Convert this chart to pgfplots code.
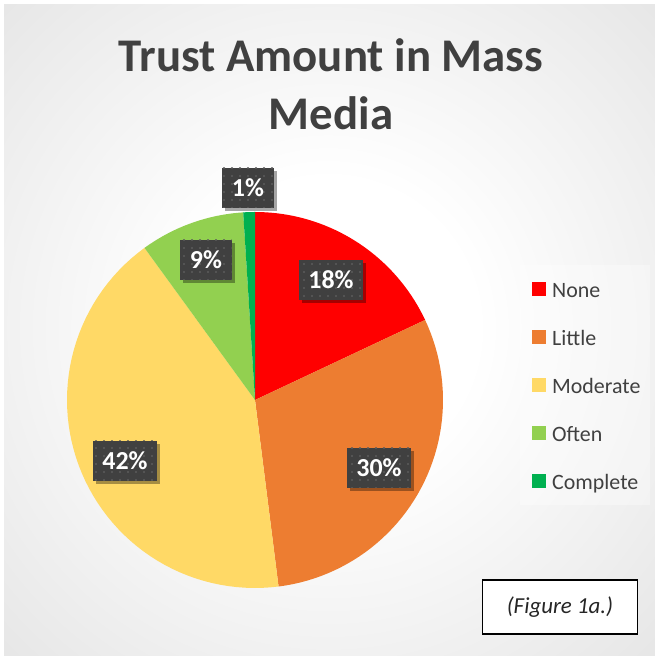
\documentclass[border=0pt]{standalone}
\usepackage{pgfplots}
\pgfplotsset{compat=1.18}
\usepackage{fontspec}
\setmainfont{Carlito}
\usetikzlibrary{patterns.meta,shadows}

\definecolor{cNone}{HTML}{FF0000}
\definecolor{cLittle}{HTML}{ED7D31}
\definecolor{cModerate}{HTML}{FFD966}
\definecolor{cOften}{HTML}{92D050}
\definecolor{cComplete}{HTML}{00B050}
\definecolor{txt}{HTML}{404040}
\definecolor{bgA}{HTML}{D8D8D8}
\definecolor{bgB}{HTML}{C4C4C4}
\definecolor{boxc}{HTML}{404040}
\definecolor{dotc}{HTML}{5C5C5C}

\pgfdeclareradialshading{bgshade}{\pgfpoint{0bp}{0bp}}{color(0bp)=(white); color(8bp)=(white); color(35bp)=(bgA); color(50bp)=(bgB)}

\tikzset{
  lbl/.style={fill=boxc, text=white, inner xsep=9.5bp, inner ysep=0pt,
    minimum height=40bp, font=\bfseries\fontsize{26}{26}\selectfont,
    drop shadow={shadow xshift=3bp, shadow yshift=-3bp, opacity=0.35, fill=black},
    postaction={pattern={Dots[distance=8bp, radius=1.1bp]}, pattern color=dotc}},
}

\begin{document}
\begin{tikzpicture}
\begin{axis}[
  width=655bp, height=656bp, scale only axis,
  xmin=0, xmax=655, ymin=-656, ymax=0,
  axis lines=none, clip=false,
  legend image code/.code={\fill[#1] (0bp,-7bp) rectangle (14bp,7bp);},
  legend style={at={(axis cs:529,-263)}, anchor=north west, draw=none, fill=none,
    font=\fontsize{22}{26}\selectfont, text=txt,
    nodes={inner sep=0pt, text height=32bp, text depth=16bp},
    /tikz/every odd column/.append style={column sep=6bp}},
  legend cell align=left,
]
% background
\fill[white] (axis cs:0,0) rectangle (axis cs:655,-656);
\begin{scope}
\clip (axis cs:4,-5) rectangle (axis cs:655,-656);
\shade[shading=bgshade] (axis cs:-135,135) rectangle (axis cs:791,-791);
\end{scope}
\fill[white, opacity=0.35] (axis cs:520,-265) rectangle (axis cs:650,-505);

% pie: shares in percent, clockwise from 12 o'clock
% None 18, Little 30, Moderate 42, Often 9, Complete 1
\addplot[fill=cNone, draw=none, domain=0:18, samples=40, variable=\t]
  ({255+188*sin(3.6*\t)}, {-400+188*cos(3.6*\t)}) -- (axis cs:255,-400) -- cycle;
\addlegendentry{None}
\addplot[fill=cLittle, draw=none, domain=18:48, samples=50, variable=\t]
  ({255+188*sin(3.6*\t)}, {-400+188*cos(3.6*\t)}) -- (axis cs:255,-400) -- cycle;
\addlegendentry{Little}
\addplot[fill=cModerate, draw=none, domain=48:90, samples=60, variable=\t]
  ({255+188*sin(3.6*\t)}, {-400+188*cos(3.6*\t)}) -- (axis cs:255,-400) -- cycle;
\addlegendentry{Moderate}
\addplot[fill=cOften, draw=none, domain=90:99, samples=20, variable=\t]
  ({255+188*sin(3.6*\t)}, {-400+188*cos(3.6*\t)}) -- (axis cs:255,-400) -- cycle;
\addlegendentry{Often}
\addplot[fill=cComplete, draw=none, domain=99:100, samples=5, variable=\t]
  ({255+188*sin(3.6*\t)}, {-400+188*cos(3.6*\t)}) -- (axis cs:255,-400) -- cycle;
\addlegendentry{Complete}

% title
\node[anchor=base, text=txt, font=\bfseries\fontsize{47}{56}\selectfont] at (axis cs:331,-72) {Trust Amount in Mass};
\node[anchor=base, text=txt, font=\bfseries\fontsize{47}{56}\selectfont] at (axis cs:331,-130) {Media};

% data labels
\node[lbl] at (axis cs:331,-280) {18\%};
\node[lbl] at (axis cs:379,-468) {30\%};
\node[lbl] at (axis cs:125,-461) {42\%};
\node[lbl] at (axis cs:206,-260) {9\%};
\node[lbl] at (axis cs:248,-188) {1\%};

% figure caption box
\node[draw=black, line width=1.6bp, fill=white, minimum width=155bp, minimum height=54bp,
  font=\itshape\fontsize{23}{23}\selectfont, text=black!85] at (axis cs:560,-607) {(Figure 1a.)};
\end{axis}
\end{tikzpicture}
\end{document}
